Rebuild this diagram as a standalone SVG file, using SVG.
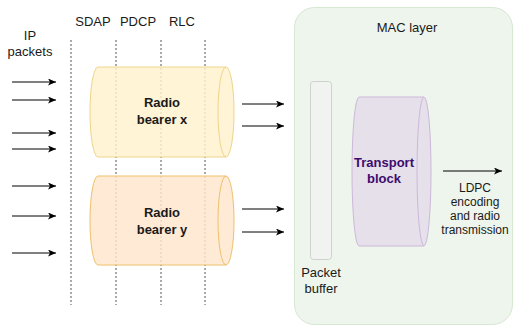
<svg xmlns="http://www.w3.org/2000/svg" width="514" height="327" viewBox="0 0 514 327">
<defs>
<marker id="ah" markerUnits="userSpaceOnUse" markerWidth="9" markerHeight="8" refX="8" refY="3.5" orient="auto">
<path d="M0,0 L8,3.5 L0,7 L2,3.5 Z" fill="#000"/>
</marker>
<style>
text{font-family:"Liberation Sans",Arial,sans-serif;font-size:13px;fill:#1a1a1a;text-anchor:middle}
.b{font-weight:bold}
.s{font-size:12px}
.dash{stroke:#555;stroke-width:1;stroke-dasharray:2,2;fill:none}
.arr{stroke:#000;stroke-width:1;fill:none;marker-end:url(#ah)}
</style>
</defs>
<rect width="514" height="327" fill="#fff"/>
<g id="labels">
<text x="30" y="40">IP</text>
<text x="30" y="56">packets</text>
<text x="93" y="26">SDAP</text>
<text x="138" y="26">PDCP</text>
<text x="182" y="26">RLC</text>
</g>
<g id="layer-lines">
<line class="dash" x1="71" y1="40" x2="71" y2="305"/>
<line class="dash" x1="116" y1="40" x2="116" y2="305"/>
<line class="dash" x1="161" y1="40" x2="161" y2="305"/>
<line class="dash" x1="205" y1="40" x2="205" y2="305"/>
</g>
<g id="mac-layer">
<rect x="294.5" y="7.5" width="218" height="317" rx="20" fill="#eef5ec" stroke="#d6e7d2"/>
<text x="407" y="32">MAC layer</text>
</g>
<g id="bearer-x">
<path d="M98,67 L226,67 A8,45 0 0 1 226,157 L98,157 A8,45 0 0 1 98,67 Z" fill="#fff2cc" fill-opacity="0.82" stroke="#eed58a"/>
<path d="M226,67 A8,45 0 0 0 226,157" fill="none" stroke="#eed58a"/>
<text class="b" x="162" y="107">Radio</text>
<text class="b" x="162" y="124">bearer x</text>
</g>
<g id="bearer-y">
<path d="M98,176 L226,176 A8,44.5 0 0 1 226,265 L98,265 A8,44.5 0 0 1 98,176 Z" fill="#ffe6cc" fill-opacity="0.82" stroke="#eec06a"/>
<path d="M226,176 A8,44.5 0 0 0 226,265" fill="none" stroke="#eec06a"/>
<text class="b" x="162" y="217">Radio</text>
<text class="b" x="162" y="234">bearer y</text>
</g>
<g id="packet-buffer">
<rect x="310.5" y="81.5" width="21" height="178" rx="3" fill="#f1f3f0" stroke="#cdd2cc"/>
<text x="321" y="277">Packet</text>
<text x="321" y="293">buffer</text>
</g>
<g id="transport-block">
<path d="M359,97 L424,97 A7,74.5 0 0 1 424,246 L359,246 A7,74.5 0 0 1 359,97 Z" fill="#e6e0ea" stroke="#cdb8da"/>
<path d="M424,97 A7,74.5 0 0 0 424,246" fill="none" stroke="#cdb8da"/>
<text class="b" x="384" y="167" style="fill:#3d0c6e">Transport</text>
<text class="b" x="384" y="183" style="fill:#3d0c6e">block</text>
</g>
<g id="ldpc-label">
<text class="s" x="475" y="192">LDPC</text>
<text class="s" x="475" y="206">encoding</text>
<text class="s" x="475" y="220">and radio</text>
<text class="s" x="475" y="234">transmission</text>
</g>
<g id="connectors">
<line class="arr" x1="12" y1="82" x2="56" y2="82"/>
<line class="arr" x1="12" y1="100" x2="56" y2="100"/>
<line class="arr" x1="12" y1="133" x2="56" y2="133"/>
<line class="arr" x1="12" y1="149" x2="56" y2="149"/>
<line class="arr" x1="12" y1="186" x2="56" y2="186"/>
<line class="arr" x1="12" y1="216" x2="56" y2="216"/>
<line class="arr" x1="12" y1="253" x2="56" y2="253"/>
<line class="arr" x1="242" y1="104" x2="284" y2="104"/>
<line class="arr" x1="242" y1="126" x2="284" y2="126"/>
<line class="arr" x1="242" y1="209" x2="284" y2="209"/>
<line class="arr" x1="242" y1="232" x2="284" y2="232"/>
<line class="arr" x1="443" y1="171" x2="502" y2="171"/>
</g>
</svg>
